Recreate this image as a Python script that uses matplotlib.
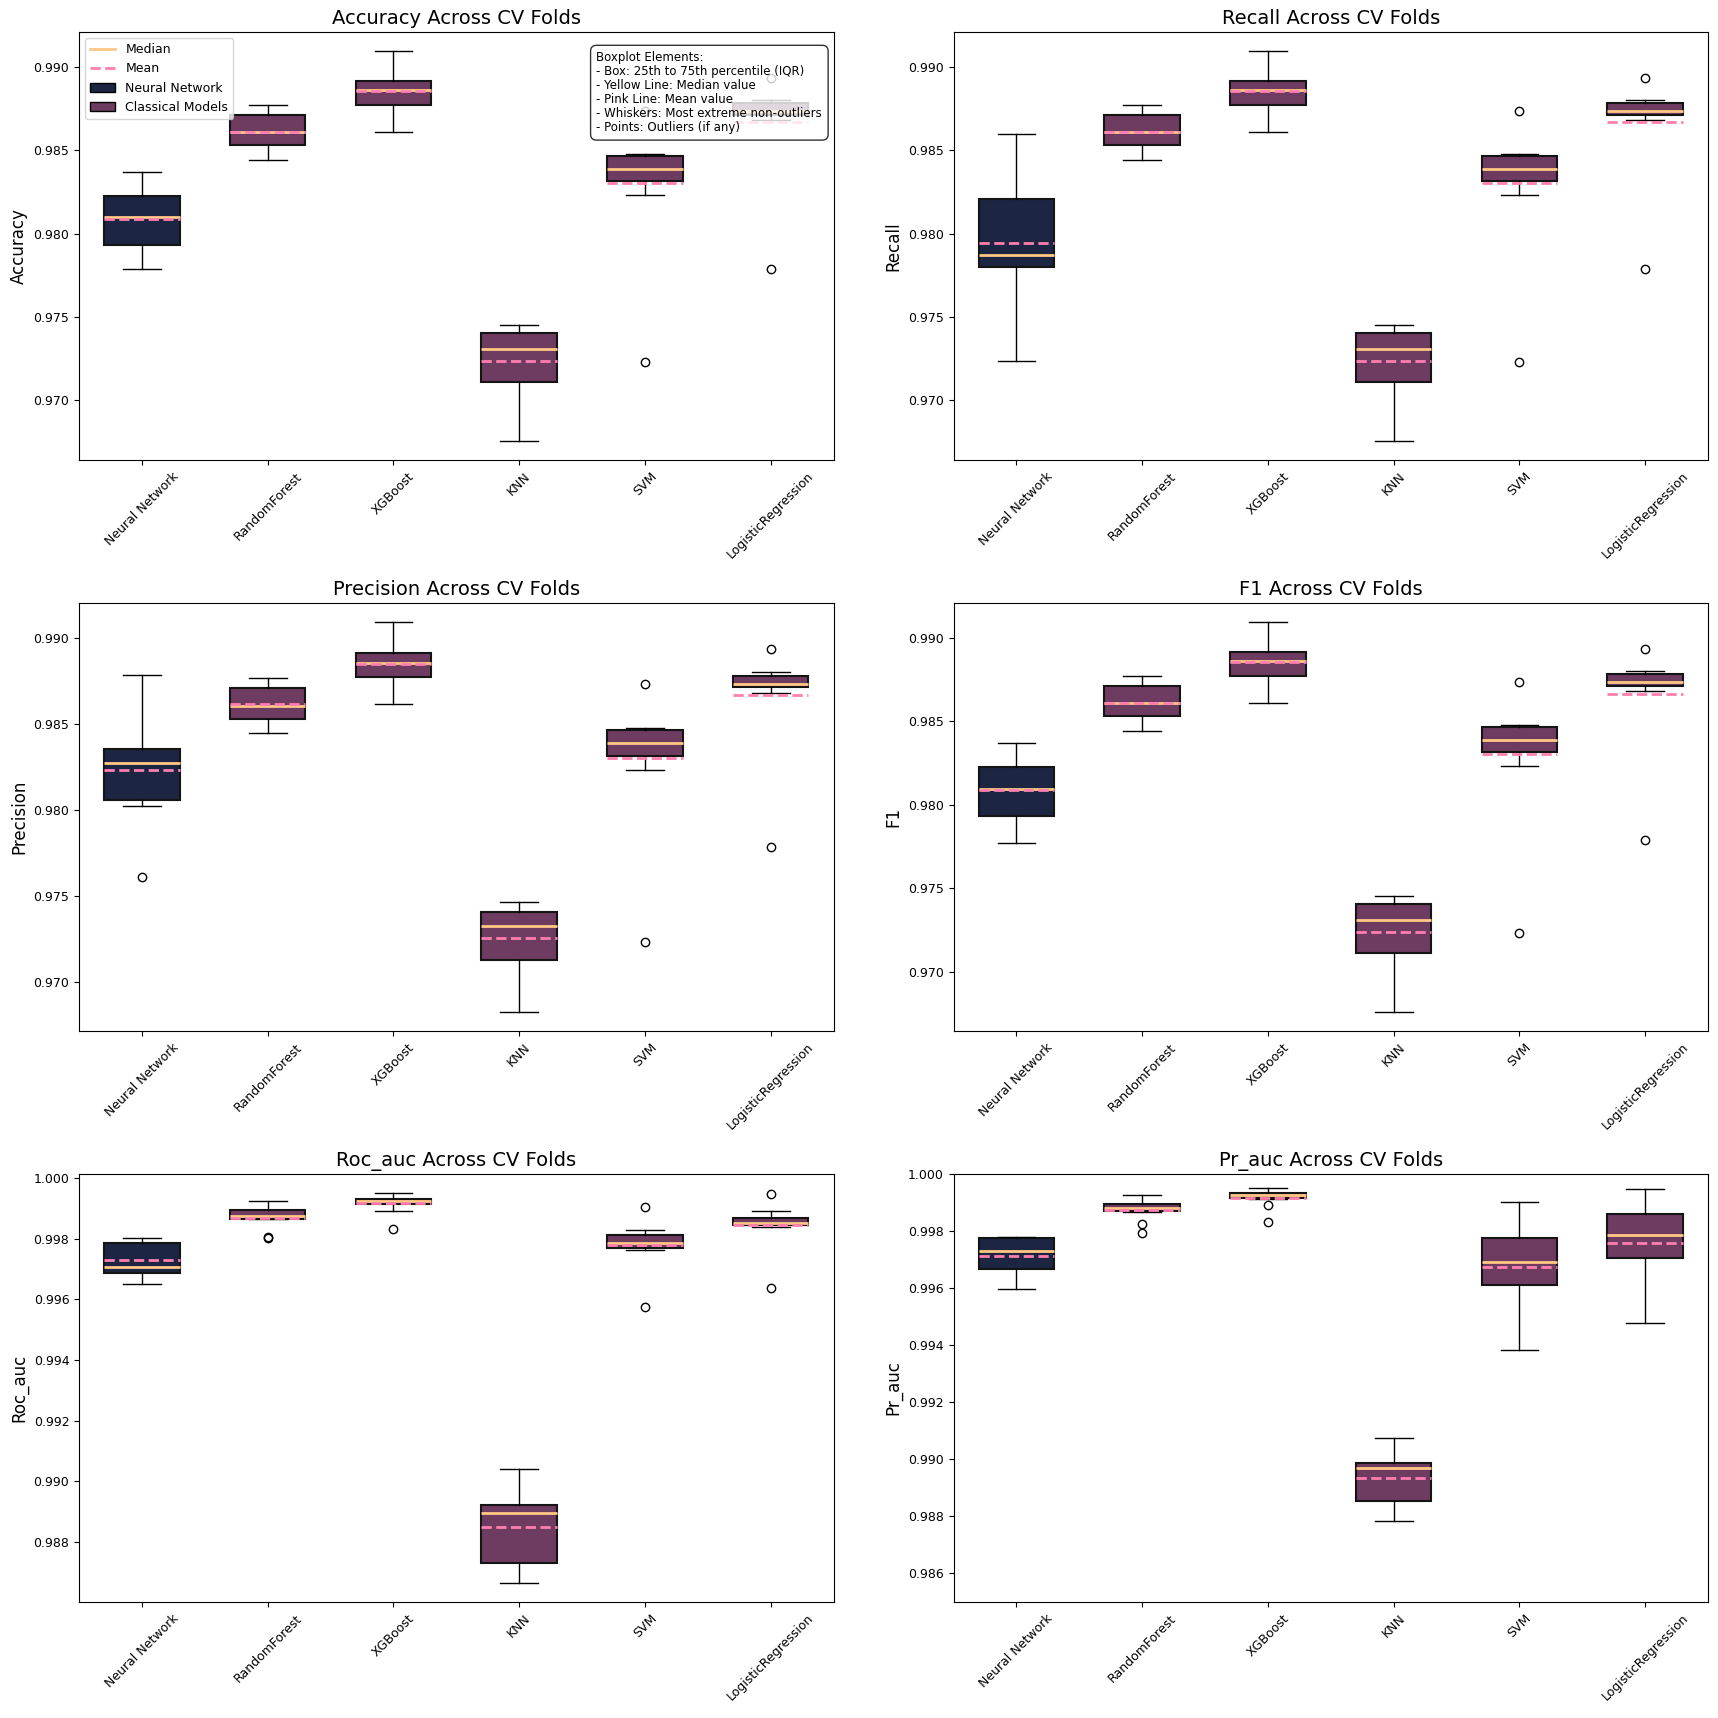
import matplotlib
matplotlib.use("Agg")
import matplotlib.pyplot as plt
from matplotlib.lines import Line2D
from matplotlib.patches import Patch

# ---- data: box stats per model, per metric ----
models = ["Neural Network", "RandomForest", "XGBoost", "KNN", "SVM", "LogisticRegression"]
metrics = ["accuracy", "recall", "precision", "f1", "roc_auc", "pr_auc"]

accuracy_low = [0.97788, 0.98444, 0.98612, 0.96760, 0.98234, 0.98680]
accuracy_q1 = [0.97932, 0.98534, 0.98772, 0.97112, 0.98314, 0.98712]
accuracy_med = [0.98098, 0.98608, 0.98858, 0.97308, 0.98388, 0.98734]
accuracy_q3 = [0.98228, 0.98712, 0.98916, 0.97402, 0.98468, 0.98780]
accuracy_high = [0.98368, 0.98768, 0.99092, 0.97454, 0.98478, 0.98802]
accuracy_mean = [0.98090, 0.98612, 0.98854, 0.97234, 0.98302, 0.98666]
accuracy_fliers = [[], [], [], [], [0.98734, 0.97230], [0.98934, 0.97788]]

recall_low = [0.97238, 0.98444, 0.98612, 0.96760, 0.98234, 0.98680]
recall_q1 = [0.97800, 0.98534, 0.98772, 0.97112, 0.98314, 0.98712]
recall_med = [0.97872, 0.98608, 0.98858, 0.97308, 0.98388, 0.98734]
recall_q3 = [0.98208, 0.98712, 0.98916, 0.97402, 0.98468, 0.98780]
recall_high = [0.98600, 0.98768, 0.99092, 0.97454, 0.98478, 0.98802]
recall_mean = [0.97942, 0.98612, 0.98854, 0.97234, 0.98302, 0.98666]
recall_fliers = [[], [], [], [], [0.98734, 0.97230], [0.98934, 0.97788]]

precision_low = [0.98027, 0.98447, 0.98616, 0.96829, 0.98233, 0.98680]
precision_q1 = [0.98062, 0.98534, 0.98773, 0.97130, 0.98315, 0.98715]
precision_med = [0.98276, 0.98608, 0.98856, 0.97328, 0.98390, 0.98736]
precision_q3 = [0.98359, 0.98713, 0.98915, 0.97408, 0.98468, 0.98781]
precision_high = [0.98790, 0.98769, 0.99093, 0.97466, 0.98478, 0.98802]
precision_mean = [0.98235, 0.98616, 0.98854, 0.97256, 0.98305, 0.98668]
precision_fliers = [[0.97612], [], [], [], [0.98734, 0.97231], [0.98936, 0.97788]]

f1_low = [0.97772, 0.98444, 0.98612, 0.96760, 0.98234, 0.98680]
f1_q1 = [0.97930, 0.98534, 0.98772, 0.97112, 0.98314, 0.98712]
f1_med = [0.98092, 0.98608, 0.98858, 0.97308, 0.98388, 0.98734]
f1_q3 = [0.98224, 0.98712, 0.98916, 0.97402, 0.98468, 0.98780]
f1_high = [0.98368, 0.98768, 0.99092, 0.97454, 0.98478, 0.98802]
f1_mean = [0.98086, 0.98612, 0.98854, 0.97234, 0.98302, 0.98666]
f1_fliers = [[], [], [], [], [0.98734, 0.97228], [0.98934, 0.97786]]

roc_auc_low = [0.99649, 0.99864, 0.99892, 0.98666, 0.99763, 0.99840]
roc_auc_q1 = [0.99686, 0.99866, 0.99914, 0.98729, 0.99770, 0.99844]
roc_auc_med = [0.99708, 0.99876, 0.99924, 0.98897, 0.99785, 0.99851]
roc_auc_q3 = [0.99785, 0.99893, 0.99932, 0.98922, 0.99811, 0.99869]
roc_auc_high = [0.99801, 0.99925, 0.99949, 0.99039, 0.99830, 0.99890]
roc_auc_mean = [0.99729, 0.99869, 0.99917, 0.98849, 0.99779, 0.99846]
roc_auc_fliers = [[], [0.99807, 0.99801], [0.99832], [], [0.99903, 0.99576], [0.99947, 0.99637]]

pr_auc_low = [0.99598, 0.99868, 0.99914, 0.98783, 0.99384, 0.99478]
pr_auc_q1 = [0.99667, 0.99869, 0.99915, 0.98855, 0.99610, 0.99705]
pr_auc_med = [0.99730, 0.99881, 0.99926, 0.98969, 0.99691, 0.99786]
pr_auc_q3 = [0.99774, 0.99896, 0.99935, 0.98988, 0.99776, 0.99860]
pr_auc_high = [0.99779, 0.99926, 0.99951, 0.99075, 0.99903, 0.99946]
pr_auc_mean = [0.99711, 0.99874, 0.99917, 0.98935, 0.99675, 0.99758]
pr_auc_fliers = [[], [0.99825, 0.99792], [0.99891, 0.99832], [], [], []]

table = {
    "accuracy": (accuracy_low, accuracy_q1, accuracy_med, accuracy_q3, accuracy_high, accuracy_mean, accuracy_fliers),
    "recall": (recall_low, recall_q1, recall_med, recall_q3, recall_high, recall_mean, recall_fliers),
    "precision": (precision_low, precision_q1, precision_med, precision_q3, precision_high, precision_mean, precision_fliers),
    "f1": (f1_low, f1_q1, f1_med, f1_q3, f1_high, f1_mean, f1_fliers),
    "roc_auc": (roc_auc_low, roc_auc_q1, roc_auc_med, roc_auc_q3, roc_auc_high, roc_auc_mean, roc_auc_fliers),
    "pr_auc": (pr_auc_low, pr_auc_q1, pr_auc_med, pr_auc_q3, pr_auc_high, pr_auc_mean, pr_auc_fliers),
}

NN_COLOR = "#1c2541"
CLS_COLOR = "#6e3b61"
MEDIAN_COLOR = "#ffc884"
MEAN_COLOR = "#ff7eb0"

info = ("Boxplot Elements:\n"
        "- Box: 25th to 75th percentile (IQR)\n"
        "- Yellow Line: Median value\n"
        "- Pink Line: Mean value\n"
        "- Whiskers: Most extreme non-outliers\n"
        "- Points: Outliers (if any)")

fig, axes = plt.subplots(3, 2, figsize=(17.18, 17.18), dpi=100)
fig.subplots_adjust(left=0.046, right=0.9942, bottom=0.0675, top=0.9814,
                    wspace=0.159, hspace=0.334)

for ax, metric in zip(axes.flat, metrics):
    lo, q1, med, q3, hi, mean, fl = table[metric]
    stats = [dict(label=m, whislo=lo[i], q1=q1[i], med=med[i], q3=q3[i],
                  whishi=hi[i], mean=mean[i], fliers=fl[i])
             for i, m in enumerate(models)]
    bp = ax.bxp(stats, widths=0.6, patch_artist=True, showmeans=True, meanline=True,
                medianprops=dict(color=MEDIAN_COLOR, lw=2),
                meanprops=dict(color=MEAN_COLOR, ls="--", lw=2),
                boxprops=dict(edgecolor="#141414", lw=1.5))
    for i, box in enumerate(bp["boxes"]):
        box.set_facecolor(NN_COLOR if i == 0 else CLS_COLOR)

    name = metric.capitalize()
    ax.set_title(f"{name} Across CV Folds", fontsize=14)
    ax.set_ylabel(name, fontsize=12)
    ax.tick_params(axis="x", rotation=45, labelsize=9)
    ax.tick_params(axis="y", labelsize=9)
    if metric == "pr_auc":
        ax.set_ylim(0.985, 1.0)

# legend + explanation only on the first panel
ax0 = axes[0, 0]
handles = [Line2D([0], [0], color=MEDIAN_COLOR, lw=2, label="Median"),
           Line2D([0], [0], color=MEAN_COLOR, lw=2, ls="--", label="Mean"),
           Patch(facecolor=NN_COLOR, edgecolor="black", label="Neural Network"),
           Patch(facecolor=CLS_COLOR, edgecolor="black", label="Classical Models")]
ax0.legend(handles=handles, loc="upper left", fontsize=9)
ax0.text(0.985, 0.955, info, transform=ax0.transAxes, ha="right", va="top",
         multialignment="left", fontsize=8.5, linespacing=1.1,
         bbox=dict(boxstyle="round,pad=0.5", facecolor="white", alpha=0.8))

fig.savefig("out.png", dpi=100)
